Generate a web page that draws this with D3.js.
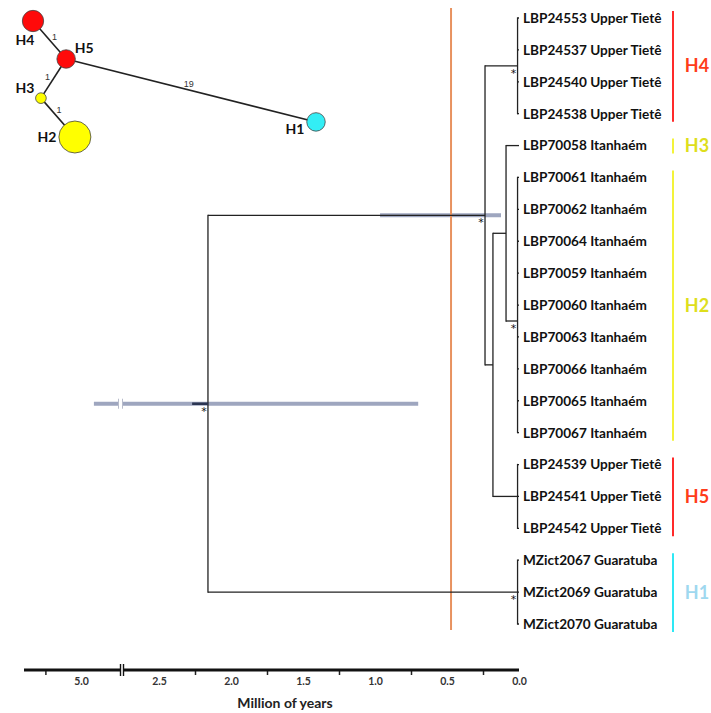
<html>
<head>
    <title>dated tree + haplotype network</title>
</head>
<body style="margin: 0; background: #fff;">
    <svg></svg>
</body>

<script src="https://cdn.jsdelivr.net/npm/d3@7"></script>
<script>
const width = 711;
const height = 713;

// tips, top to bottom
const tipIds = ['LBP24553', 'LBP24537', 'LBP24540', 'LBP24538', 'LBP70058',
    'LBP70061', 'LBP70062', 'LBP70064', 'LBP70059', 'LBP70060', 'LBP70063',
    'LBP70066', 'LBP70065', 'LBP70067', 'LBP24539', 'LBP24541', 'LBP24542',
    'MZict2067', 'MZict2069', 'MZict2070'];
const tipPlaces = ['Upper Tietê', 'Upper Tietê', 'Upper Tietê', 'Upper Tietê', 'Itanhaém',
    'Itanhaém', 'Itanhaém', 'Itanhaém', 'Itanhaém', 'Itanhaém', 'Itanhaém',
    'Itanhaém', 'Itanhaém', 'Itanhaém', 'Upper Tietê', 'Upper Tietê', 'Upper Tietê',
    'Guaratuba', 'Guaratuba', 'Guaratuba'];

// internal nodes (ages in Myr), children are node ids or tip indices
const treeNodes = [
    {id: 'root', age: 2.16, kids: ['A', 'nH1'], star: true, hpd: [0.70, 4.91], stem: 2.27},
    {id: 'A', age: 0.236, kids: ['nH4', 'B'], star: true, hpd: [0.125, 0.965]},
    {id: 'B', age: 0.181, kids: ['C', 'nH5']},
    {id: 'C', age: 0.090, kids: [4, 'nH2']},
    {id: 'nH4', age: 0.01, kids: [0, 1, 2, 3], star: true},
    {id: 'nH2', age: 0.01, kids: [5, 6, 7, 8, 9, 10, 11, 12, 13], star: true, row: 9.5},
    {id: 'nH5', age: 0.01, kids: [14, 15, 16]},
    {id: 'nH1', age: 0.01, kids: [17, 18, 19], star: true},
];
const cutAge = 0.472;

// haplotype groups on the right
const groupNames = ['H4', 'H3', 'H2', 'H5', 'H1'];
const groupFirst = [0, 4, 5, 14, 17];
const groupLast = [3, 4, 13, 16, 19];

// axis
const axisLabels = [5.0, 2.5, 2.0, 1.5, 1.0, 0.5, 0.0];
const axisTicks = [5.25, 2.25, 1.75, 1.25, 0.75, 0.25];

// haplotype network
const haps = ['H4', 'H5', 'H3', 'H2', 'H1'];
const hapCounts = [4, 3, 1, 9, 3];
const hapLinks = [['H4', 'H5', 1], ['H5', 'H3', 1], ['H3', 'H2', 1], ['H5', 'H1', 19]];
// layout of the network (arbitrary units)
const netLayout = {H4: [0, 0], H5: [11.7, 13.1], H3: [2.8, 26.6], H2: [14.8, 40], H1: [100, 34.8]};
const netLabelOff = {H4: [-8, 19], H5: [18, -11], H3: [-16, -10], H2: [-28, 0], H1: [-21, 7]};

const hapFill = {H1: '#33eef5', H2: '#ffff00', H3: '#ffff00', H4: '#ff0a0a', H5: '#ff0a0a'};
const barColor = {H1: '#2ee8f5', H2: '#f3f33a', H3: '#f3f33a', H4: '#ff2a2a', H5: '#ff2a2a'};
const textColor = {H1: '#9fd8ef', H2: '#dede1c', H3: '#dede1c', H4: '#ff3c1a', H5: '#ff3c1a'};

const font = 'Lato, "Open Sans", sans-serif';

const svg = d3.select('svg').attr('width', width).attr('height', height)
    .style('font-family', font);

// broken time scale
const xR = d3.scaleLinear().domain([0, 2.75]).range([519, 123]);
const xL = d3.scaleLinear().domain([4.72, 5.40]).range([121, 24]);
const xT = t => t <= 2.75 ? xR(t) : xL(t);
const yRow = d3.scaleLinear().domain([0, 19]).range([18, 624]);

// layout rows
const byId = {};
treeNodes.forEach(n => byId[n.id] = n);
function rowOf(k) {
    if (typeof k === 'number') return k;
    const n = byId[k];
    if (n.row == null) n.row = (rowOf(n.kids[0]) + rowOf(n.kids[n.kids.length - 1])) / 2;
    return n.row;
}
function ageOf(k) { return typeof k === 'number' ? 0 : byId[k].age; }
treeNodes.forEach(n => rowOf(n.id));

// HPD bars
const gBar = svg.append('g');
treeNodes.filter(n => n.hpd).forEach(n => {
    gBar.append('line')
        .attr('x1', xT(n.hpd[1])).attr('x2', xT(n.hpd[0]))
        .attr('y1', yRow(n.row)).attr('y2', yRow(n.row))
        .attr('stroke', '#9ea6bf').attr('stroke-width', 4);
    if (n.hpd[1] > 2.75) {
        gBar.append('rect').attr('x', 119).attr('y', yRow(n.row) - 5)
            .attr('width', 3).attr('height', 10).attr('fill', '#fff');
        [118.5, 122.5].forEach(x => gBar.append('line')
            .attr('x1', x).attr('x2', x)
            .attr('y1', yRow(n.row) - 5).attr('y2', yRow(n.row) + 5)
            .attr('stroke', '#b8bccb').attr('stroke-width', 1));
    }
});

// orange time line
svg.append('line')
    .attr('x1', xT(cutAge)).attr('x2', xT(cutAge))
    .attr('y1', 8).attr('y2', 630)
    .attr('stroke', '#e8925f').attr('stroke-width', 2);

// branches
const gTree = svg.append('g').attr('stroke', '#222').attr('stroke-width', 1.3).attr('fill', 'none');
treeNodes.forEach(n => {
    const x = xT(n.age);
    gTree.append('line')
        .attr('x1', x).attr('x2', x)
        .attr('y1', yRow(rowOf(n.kids[0])) - 0.65)
        .attr('y2', yRow(rowOf(n.kids[n.kids.length - 1])) + 0.65);
    n.kids.forEach(k => {
        gTree.append('line')
            .attr('x1', x).attr('x2', xT(ageOf(k)))
            .attr('y1', yRow(rowOf(k))).attr('y2', yRow(rowOf(k)));
    });
    if (n.stem) {
        svg.append('line')
            .attr('x1', xT(n.stem)).attr('x2', x)
            .attr('y1', yRow(n.row)).attr('y2', yRow(n.row))
            .attr('stroke', '#2b3552').attr('stroke-width', 2.5);
    }
    if (n.star) {
        svg.append('text')
            .attr('x', x - 4).attr('y', yRow(n.row) + 11)
            .attr('text-anchor', 'middle')
            .attr('font-size', 11).attr('fill', '#111')
            .style('font-family', 'DejaVu Sans, sans-serif')
            .text('*');
    }
});

// tip labels
svg.append('g').selectAll('text')
    .data(tipIds)
    .join('text')
    .attr('x', xT(0) + 4)
    .attr('y', (d, i) => yRow(i))
    .attr('dy', '0.36em')
    .attr('font-size', 13.6)
    .attr('font-weight', 700)
    .attr('fill', '#111')
    .text((d, i) => `${d} ${tipPlaces[i]}`);

// haplotype group bars
groupNames.forEach((g, i) => {
    const y0 = yRow(groupFirst[i]) - 7;
    const y1 = yRow(groupLast[i]) + 8;
    svg.append('line')
        .attr('x1', 673).attr('x2', 673).attr('y1', y0).attr('y2', y1)
        .attr('stroke', barColor[g]).attr('stroke-width', 2);
    svg.append('text')
        .attr('x', 697).attr('y', (yRow(groupFirst[i]) + yRow(groupLast[i])) / 2)
        .attr('dy', '0.36em')
        .attr('text-anchor', 'middle')
        .attr('font-size', 18).attr('font-weight', 700)
        .attr('fill', textColor[g])
        .text(g);
});

// axis
const axisY = 670;
const gAx = svg.append('g').attr('transform', `translate(0,${axisY})`);
[[xR, axisLabels.filter(v => v <= 2.75)], [xL, axisLabels.filter(v => v > 2.75)]].forEach(([sc, vals]) => {
    gAx.append('g')
        .call(d3.axisBottom(sc).tickValues(vals).tickSize(0).tickPadding(8).tickFormat(d3.format('.1f')))
        .call(g => g.select('.domain').remove())
        .call(g => g.selectAll('text').attr('font-size', 10.5).attr('font-weight', 700)
            .attr('fill', '#333').style('font-family', font));
});
[[xR, axisTicks.filter(v => v <= 2.75)], [xL, axisTicks.filter(v => v > 2.75)]].forEach(([sc, vals]) => {
    gAx.append('g')
        .call(d3.axisBottom(sc).tickValues(vals).tickSize(5).tickFormat(''))
        .call(g => g.select('.domain').remove())
        .call(g => g.selectAll('line').attr('stroke', '#222').attr('stroke-width', 1.5));
});
gAx.append('line').attr('x1', xL(5.40)).attr('x2', xR(0)).attr('y1', 0).attr('y2', 0)
    .attr('stroke', '#111').attr('stroke-width', 3);
gAx.append('rect').attr('x', 121).attr('y', -3).attr('width', 2).attr('height', 6).attr('fill', '#fff');
[120.5, 123.5].forEach(x => gAx.append('line')
    .attr('x1', x).attr('x2', x).attr('y1', -6).attr('y2', 6)
    .attr('stroke', '#111').attr('stroke-width', 1.4));
svg.append('text')
    .attr('x', 285).attr('y', 708)
    .attr('text-anchor', 'middle')
    .attr('font-size', 14).attr('font-weight', 700).attr('fill', '#222')
    .text('Million of years');

// haplotype network
const nx = d3.scaleLinear().domain([0, 100]).range([33, 316]);
const ny = d3.scaleLinear().domain([0, 40]).range([21, 137]);
const nr = d3.scaleSqrt().domain([0, 9]).range([0, 16]);
const pos = h => [nx(netLayout[h][0]), ny(netLayout[h][1])];
const rad = h => nr(hapCounts[haps.indexOf(h)]);

const gNet = svg.append('g');
hapLinks.forEach(([a, b, steps]) => {
    const [x1, y1] = pos(a), [x2, y2] = pos(b);
    gNet.append('line').attr('x1', x1).attr('y1', y1).attr('x2', x2).attr('y2', y2)
        .attr('stroke', '#222').attr('stroke-width', 1.6);
    const L = Math.hypot(x2 - x1, y2 - y1);
    const ux = (x2 - x1) / L, uy = (y2 - y1) / L;
    const ra = rad(a), rb = rad(b);
    const mx = ((x1 + ux * ra) + (x2 - ux * rb)) / 2;
    const my = ((y1 + uy * ra) + (y2 - uy * rb)) / 2;
    let px = uy, py = -ux;
    if (py > 0 || (py === 0 && px > 0)) { px = -px; py = -py; }
    if (Math.abs(uy) > 0.8 && ux < 0) { px = -Math.abs(px); }
    const off = steps > 9 ? 7 : 6;
    gNet.append('text')
        .attr('x', mx + px * off - (steps > 9 ? 4 : 0)).attr('y', my + py * off)
        .attr('dy', '0.35em').attr('text-anchor', 'middle')
        .attr('font-size', 9).attr('fill', '#333')
        .style('font-family', '"Liberation Sans", Arial, sans-serif')
        .text(steps);
});
haps.forEach(h => {
    const [x, y] = pos(h);
    gNet.append('circle').attr('cx', x).attr('cy', y).attr('r', rad(h))
        .attr('fill', hapFill[h]).attr('stroke', '#444').attr('stroke-width', 0.8);
    gNet.append('text')
        .attr('x', x + netLabelOff[h][0]).attr('y', y + netLabelOff[h][1])
        .attr('dy', '0.36em').attr('text-anchor', 'middle')
        .attr('font-size', 14).attr('font-weight', 700).attr('fill', '#111')
        .text(h);
});
</script>
</html>
